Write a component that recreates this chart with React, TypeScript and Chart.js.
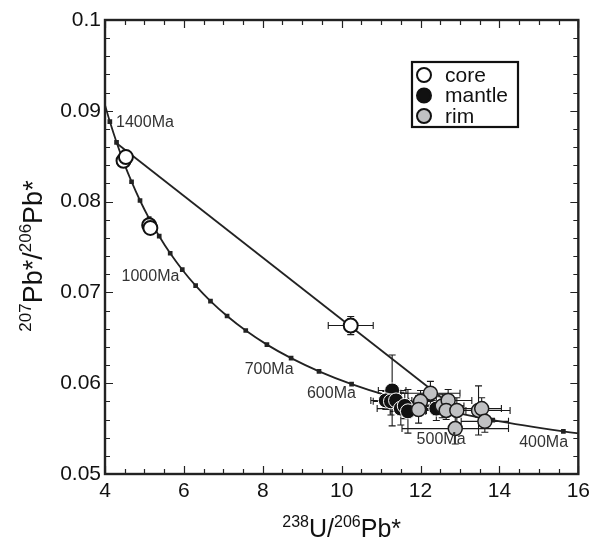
import React, { useEffect, useRef } from 'react';
import { Chart, registerables } from 'chart.js';

Chart.register(...registerables);

const FONT = '"Liberation Sans", Arial, Helvetica, sans-serif';

// Concordia curve points (age in Ma, 238U/206Pb, 207Pb/206Pb)
const concordiaAgeMa = [1450, 1400, 1350, 1300, 1250, 1200, 1150, 1100, 1050, 1000, 950, 900, 850, 800, 750, 700, 650, 600, 550, 500, 450, 400, 380];
const concordiaX = [3.9645, 4.1227, 4.2926, 4.4756, 4.6733, 4.8875, 5.1204, 5.3746, 5.653, 5.9593, 6.298, 6.6743, 7.095, 7.5684, 8.1049, 8.7182, 9.4261, 10.2518, 11.2279, 12.3994, 13.8313, 15.6211, 16.469];
const concordiaY = [0.09116, 0.08881, 0.08653, 0.08432, 0.08219, 0.08012, 0.07812, 0.07619, 0.07431, 0.0725, 0.07074, 0.06904, 0.0674, 0.0658, 0.06425, 0.06276, 0.06131, 0.0599, 0.05854, 0.05722, 0.05594, 0.0547, 0.05422];

const ageLabels = ['1400Ma', '1000Ma', '700Ma', '600Ma', '500Ma', '400Ma'];
const ageLabelX = [4.28, 4.42, 7.54, 9.12, 11.9, 14.5];
const ageLabelY = [0.0887, 0.07175, 0.06154, 0.0589, 0.05375, 0.05345];

const discordiaX = [4.27, 13.0];
const discordiaY = [0.0865, 0.05682];

const coreX = [4.47, 4.53, 5.12, 5.15, 10.23];
const coreY = [0.0845, 0.0849, 0.0774, 0.0771, 0.06635];
const coreXErr = [0, 0, 0, 0, 0.57];
const coreYErr = [0, 0, 0, 0, 0.001];

const mantleX = [11.28, 11.12, 11.25, 11.38, 11.5, 11.6, 11.68, 12.4];
const mantleY = [0.0592, 0.0581, 0.058, 0.0581, 0.0572, 0.0575, 0.0569, 0.0572];
const mantleXErr = [0.35, 0.38, 0.45, 0.4, 0.6, 0.5, 0.45, 0.5];
const mantleYErr = [0.0039, 0.001, 0.0015, 0.0012, 0.0018, 0.0014, 0.0024, 0.0013];

const rimX = [12.25, 12.0, 11.95, 12.55, 12.7, 12.65, 12.92, 12.88, 13.47, 13.55, 13.63];
const rimY = [0.0589, 0.058, 0.0571, 0.0575, 0.0581, 0.057, 0.057, 0.055, 0.057, 0.0572, 0.0558];
const rimXErr = [0.75, 0.6, 0.5, 0.55, 0.6, 0.5, 0.55, 1.35, 0.8, 0.5, 0.6];
const rimYErr = [0.0013, 0.0012, 0.0015, 0.0013, 0.0012, 0.001, 0.0014, 0.0017, 0.0027, 0.0012, 0.0012];

const xTicks = [4, 6, 8, 10, 12, 14, 16];
const yTicks = [0.05, 0.06, 0.07, 0.08, 0.09, 0.1];
const yTickLabels = ['0.05', '0.06', '0.07', '0.08', '0.09', '0.1'];

const legendLabels = ['core', 'mantle', 'rim'];
const legendFill = ['#ffffff', '#111111', '#c0c1c3'];

const errorGroups = [
  { x: coreX, y: coreY, xe: coreXErr, ye: coreYErr },
  { x: mantleX, y: mantleY, xe: mantleXErr, ye: mantleYErr },
  { x: rimX, y: rimY, xe: rimXErr, ye: rimYErr },
];

const errorBarPlugin = {
  id: 'errorBars',
  beforeDatasetsDraw(chart: any) {
    const { ctx, scales } = chart;
    const xs = scales.x;
    const ys = scales.y;
    const cap = 3.5;
    ctx.save();
    ctx.strokeStyle = '#1a1a1a';
    ctx.lineWidth = 1.1;
    errorGroups.forEach((g) => {
      g.x.forEach((xv: number, i: number) => {
        const yv = g.y[i];
        const px = xs.getPixelForValue(xv);
        const py = ys.getPixelForValue(yv);
        if (g.xe[i] > 0) {
          const x0 = xs.getPixelForValue(xv - g.xe[i]);
          const x1 = xs.getPixelForValue(xv + g.xe[i]);
          ctx.beginPath();
          ctx.moveTo(x0, py); ctx.lineTo(x1, py);
          ctx.moveTo(x0, py - cap); ctx.lineTo(x0, py + cap);
          ctx.moveTo(x1, py - cap); ctx.lineTo(x1, py + cap);
          ctx.stroke();
        }
        if (g.ye[i] > 0) {
          const y0 = ys.getPixelForValue(yv - g.ye[i]);
          const y1 = ys.getPixelForValue(yv + g.ye[i]);
          ctx.beginPath();
          ctx.moveTo(px, y0); ctx.lineTo(px, y1);
          ctx.moveTo(px - cap, y0); ctx.lineTo(px + cap, y0);
          ctx.moveTo(px - cap, y1); ctx.lineTo(px + cap, y1);
          ctx.stroke();
        }
      });
    });
    ctx.restore();
  },
};

const framePlugin = {
  id: 'frameAndText',
  afterDraw(chart: any) {
    const { ctx, chartArea: a, scales } = chart;
    const xs = scales.x;
    const ys = scales.y;
    ctx.save();
    // inner ticks
    ctx.strokeStyle = '#222';
    ctx.lineWidth = 1.2;
    ctx.beginPath();
    for (let k = 0; k <= 24; k++) {
      const v = 4 + k * 0.5;
      const px = Math.round(xs.getPixelForValue(v)) + 0.5;
      const len = k % 4 === 0 ? 8 : 5;
      ctx.moveTo(px, a.bottom); ctx.lineTo(px, a.bottom - len);
      ctx.moveTo(px, a.top); ctx.lineTo(px, a.top + len);
    }
    for (let k = 0; k <= 25; k++) {
      const v = 0.05 + k * 0.002;
      const py = Math.round(ys.getPixelForValue(v)) + 0.5;
      const len = k % 5 === 0 ? 8 : 5;
      ctx.moveTo(a.left, py); ctx.lineTo(a.left + len, py);
      ctx.moveTo(a.right, py); ctx.lineTo(a.right - len, py);
    }
    ctx.stroke();
    // frame
    ctx.lineWidth = 2.4;
    ctx.strokeStyle = '#222';
    ctx.strokeRect(a.left, a.top, a.right - a.left, a.bottom - a.top);

    // age labels
    ctx.fillStyle = '#333';
    ctx.font = `16px ${FONT}`;
    ctx.textAlign = 'left';
    ctx.textBaseline = 'middle';
    ageLabels.forEach((t, i) => {
      ctx.fillText(t, xs.getPixelForValue(ageLabelX[i]), ys.getPixelForValue(ageLabelY[i]));
    });

    const drawTitle = (parts: { t: string; sup: boolean }[], cx: number, baseY: number, bigSize: number, smallSize: number) => {
      const big = `${bigSize}px ${FONT}`;
      const small = `${smallSize}px ${FONT}`;
      let w = 0;
      parts.forEach((p) => { ctx.font = p.sup ? small : big; w += ctx.measureText(p.t).width; });
      let x = cx - w / 2;
      ctx.textAlign = 'left';
      ctx.textBaseline = 'alphabetic';
      parts.forEach((p) => {
        ctx.font = p.sup ? small : big;
        ctx.fillText(p.t, x, p.sup ? baseY - bigSize * 0.4 : baseY);
        x += ctx.measureText(p.t).width;
      });
    };
    ctx.fillStyle = '#111';
    drawTitle([
      { t: '238', sup: true }, { t: 'U/', sup: false }, { t: '206', sup: true }, { t: 'Pb*', sup: false },
    ], (a.left + a.right) / 2, 537, 25, 16);

    ctx.save();
    ctx.translate(42, 256);
    ctx.rotate(-Math.PI / 2);
    drawTitle([
      { t: '207', sup: true }, { t: 'Pb*/', sup: false }, { t: '206', sup: true }, { t: 'Pb*', sup: false },
    ], 0, 0, 27, 17);
    ctx.restore();

    // legend
    const lx = 412, ly = 62, lw = 106, lh = 65;
    ctx.fillStyle = '#fff';
    ctx.fillRect(lx, ly, lw, lh);
    ctx.lineWidth = 2.2;
    ctx.strokeStyle = '#111';
    ctx.strokeRect(lx, ly, lw, lh);
    ctx.font = `21px ${FONT}`;
    ctx.textBaseline = 'middle';
    legendLabels.forEach((t, i) => {
      const cy = ly + 13 + i * 20.5;
      ctx.beginPath();
      ctx.arc(lx + 12, cy, 7, 0, Math.PI * 2);
      ctx.fillStyle = legendFill[i];
      ctx.fill();
      ctx.lineWidth = 2;
      ctx.strokeStyle = '#111';
      ctx.stroke();
      ctx.fillStyle = '#111';
      ctx.fillText(t, lx + 33, cy + 1);
    });
    ctx.restore();
  },
};

export default function App() {
  const ref = useRef<HTMLCanvasElement | null>(null);

  useEffect(() => {
    if (!ref.current) return;
    const toPts = (xs: number[], ys: number[]) => xs.map((v, i) => ({ x: v, y: ys[i] }));
    const chart = new Chart(ref.current, {
      type: 'scatter',
      data: {
        datasets: [
          {
            label: 'rim',
            data: toPts(rimX, rimY),
            pointRadius: 7,
            pointBackgroundColor: '#c0c1c3',
            pointBorderColor: '#1a1a1a',
            pointBorderWidth: 1.5,
            order: 1,
          },
          {
            label: 'mantle',
            data: toPts(mantleX, mantleY),
            pointRadius: 7.5,
            pointBackgroundColor: '#111111',
            pointBorderColor: '#ffffff',
            pointBorderWidth: 1,
            order: 2,
          },
          {
            label: 'core',
            data: toPts(coreX, coreY),
            pointRadius: 7,
            pointBackgroundColor: '#ffffff',
            pointBorderColor: '#111111',
            pointBorderWidth: 2,
            order: 3,
          },
          {
            label: 'discordia',
            data: toPts(discordiaX, discordiaY),
            showLine: true,
            borderColor: '#222',
            borderWidth: 1.8,
            pointRadius: 0,
            order: 4,
          },
          {
            label: 'concordia',
            data: toPts(concordiaX, concordiaY),
            showLine: true,
            borderColor: '#222',
            borderWidth: 1.8,
            cubicInterpolationMode: 'monotone',
            pointStyle: 'rect',
            pointRadius: concordiaAgeMa.map((a) => (a % 50 === 0 ? 3.3 : 0)),
            pointBackgroundColor: '#222',
            pointBorderWidth: 0,
            order: 5,
          } as any,
        ],
      },
      options: {
        animation: false,
        responsive: false,
        events: [],
        layout: { padding: { top: 20, right: 14, left: 0, bottom: 0 } },
        plugins: { legend: { display: false }, tooltip: { enabled: false } },
        scales: {
          x: {
            type: 'linear',
            min: 4,
            max: 16,
            grid: { display: false, drawTicks: false },
            border: { display: false },
            afterBuildTicks: (s: any) => { s.ticks = xTicks.map((v) => ({ value: v })); },
            afterFit: (s: any) => { s.height = 76; },
            ticks: {
              padding: 5,
              color: '#111',
              font: { family: FONT, size: 21 },
              callback: (v: any) => String(v),
              maxRotation: 0,
            },
          },
          y: {
            type: 'linear',
            min: 0.05,
            max: 0.1,
            grid: { display: false, drawTicks: false },
            border: { display: false },
            afterBuildTicks: (s: any) => { s.ticks = yTicks.map((v) => ({ value: v })); },
            afterFit: (s: any) => { s.width = 105; },
            ticks: {
              padding: 4,
              color: '#111',
              font: { family: FONT, size: 21 },
              callback: (_v: any, i: number) => yTickLabels[i],
            },
          },
        },
      },
      plugins: [errorBarPlugin, framePlugin],
    });
    return () => chart.destroy();
  }, []);

  return (
    <div style={{ position: 'absolute', left: 0, top: 0, width: 595, height: 550, background: '#fff' }}>
      <canvas ref={ref} width={595} height={550} style={{ display: 'block' }} />
    </div>
  );
}
